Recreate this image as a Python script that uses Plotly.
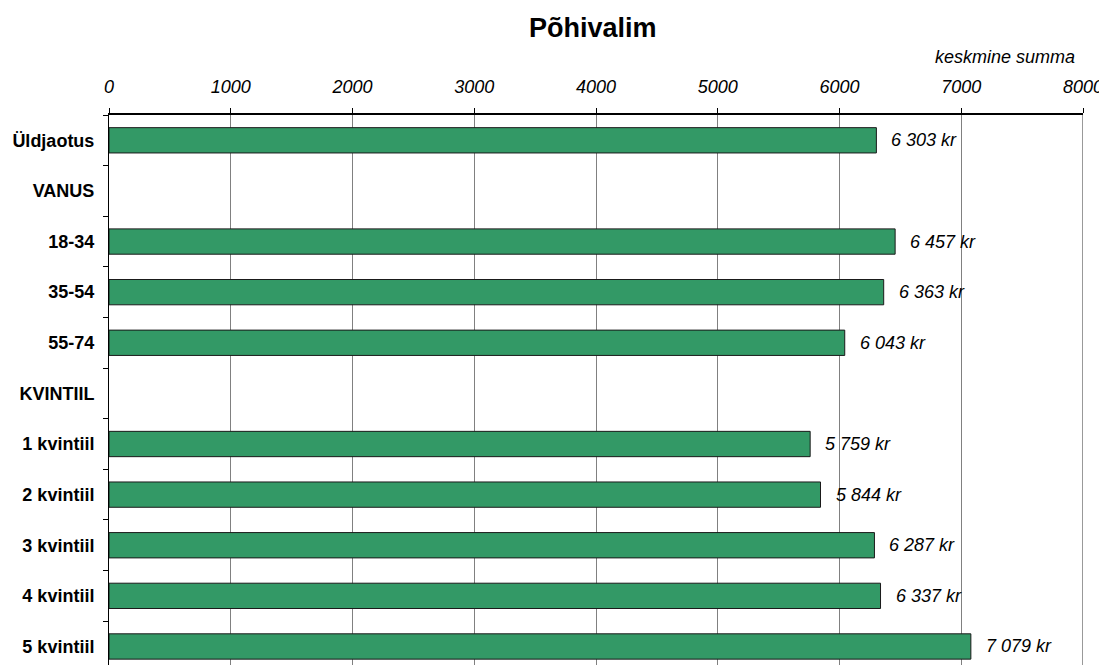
import plotly.graph_objs as go

# data
categories = ["Üldjaotus", "VANUS", "18-34", "35-54", "55-74", "KVINTIIL",
              "1 kvintiil", "2 kvintiil", "3 kvintiil", "4 kvintiil", "5 kvintiil"]
values = [6303, None, 6457, 6363, 6043, None, 5759, 5844, 6287, 6337, 7079]
x_ticks = [0, 1000, 2000, 3000, 4000, 5000, 6000, 7000, 8000]

FONT = "Liberation Sans, Arial, sans-serif"
GREEN = "#339966"


def kr(v):
    return "{:,}".format(v).replace(",", " ") + " kr"


fig = go.Figure()
fig.add_bar(
    y=categories,
    x=values,
    orientation="h",
    width=0.5,
    marker=dict(color=GREEN, line=dict(color="#1a1a1a", width=1)),
    hoverinfo="x+y",
)

# value labels to the right of each bar
for c, v in zip(categories, values):
    if v is None:
        continue
    fig.add_annotation(x=v, y=c, text="<i>%s</i>" % kr(v), showarrow=False,
                       xanchor="left", xshift=13,
                       font=dict(family=FONT, size=18, color="black"))

fig.add_annotation(text="<i>keskmine summa</i>", xref="paper", yref="paper",
                   x=1.0, y=1.0, xanchor="right", yanchor="bottom",
                   xshift=-6, yshift=46, showarrow=False,
                   font=dict(family=FONT, size=18, color="black"))

# right edge line of the plot area
fig.add_shape(type="line", x0=8000, x1=8000, y0=0, y1=1, xref="x", yref="paper",
              line=dict(color="#999999", width=2))

# page body has an 8px margin, so the figure is a bit smaller than the window
fig.update_layout(
    width=1099,
    height=657,
    margin=dict(l=101, r=24, t=107, b=0),
    paper_bgcolor="white",
    plot_bgcolor="white",
    showlegend=False,
    title=dict(text="<b>Põhivalim</b>", x=0.532, xanchor="center", y=0.97,
               yanchor="middle", font=dict(family=FONT, size=27, color="black")),
    xaxis=dict(
        side="top",
        range=[0, 8000],
        tickvals=x_ticks,
        ticktext=["<i>%d</i>" % t for t in x_ticks],
        ticks="outside",
        ticklen=5,
        tickcolor="black",
        ticklabelstandoff=8,
        showline=True,
        linecolor="black",
        linewidth=1.5,
        showgrid=True,
        gridcolor="#808080",
        gridwidth=1,
        zeroline=False,
        tickfont=dict(family=FONT, size=18, color="black"),
    ),
    yaxis=dict(
        type="category",
        categoryorder="array",
        categoryarray=categories,
        range=[10.366, -0.5],
        ticks="outside",
        tickson="boundaries",
        ticklen=5,
        tickcolor="black",
        ticklabelstandoff=10,
        showline=True,
        linecolor="black",
        linewidth=1,
        showgrid=False,
        tickfont=dict(family=FONT, size=18, color="black"),
        ticktext=["<b>%s</b>" % c for c in categories],
        tickvals=categories,
    ),
)

fig.write_html("out.html")
